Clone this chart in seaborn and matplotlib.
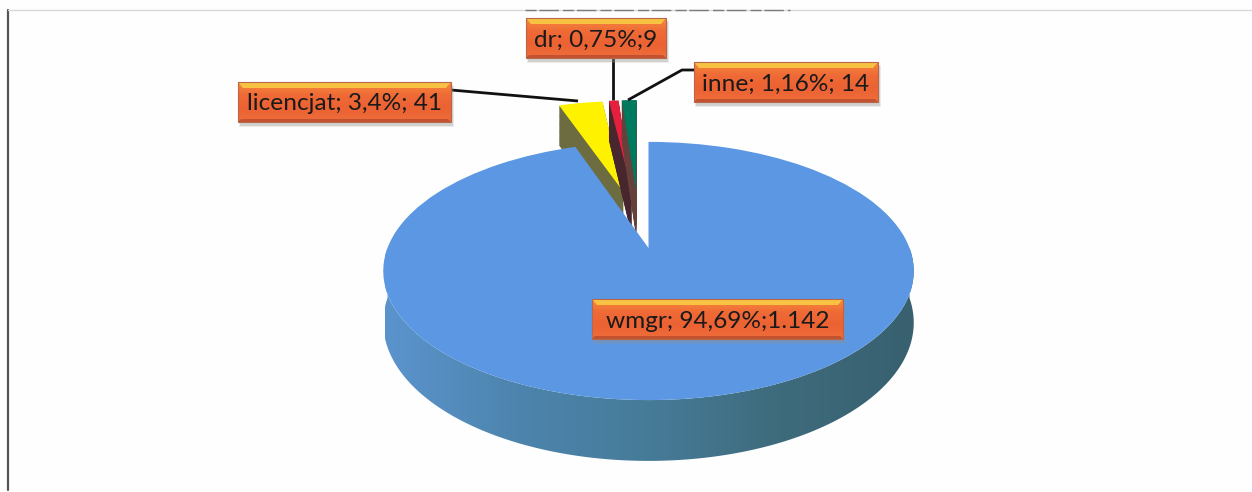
import numpy as np
import matplotlib
matplotlib.use("Agg")
import matplotlib.pyplot as plt
from matplotlib.patches import Polygon, Rectangle, PathPatch
from matplotlib.path import Path
from matplotlib.transforms import Transform
import seaborn as sns

# ---- data ----
categories = ["wmgr", "licencjat", "dr", "inne"]
percent = [94.69, 3.4, 0.75, 1.16]
label_texts = ["wmgr; 94,69%;1.142", "licencjat; 3,4%; 41", "dr; 0,75%;9", "inne; 1,16%; 14"]

# ---- styling ----
top_colors = ["#5b97e3", "#fff200", "#e61f3d", "#007a5e"]
side_colors = ["#457a96", "#6c6c40", "#47262e", "#66403a"]
explode = [0.0, 0.5, 0.5, 0.5]
nudge_px = [0.0, 2.0, -5.0, -8.0]
sns.set_theme(style="white")
plt.rcParams["font.family"] = ["Lato", "DejaVu Sans"]

W, H = 1252, 492
fig = plt.figure(figsize=(W / 100, H / 100), dpi=100, facecolor="#fefefe")
ax = fig.add_axes([0, 0, 1, 1])

CX, CY, RX, SY, K, DEPTH = 648.5, 248.0, 261.0, 125.0, 0.178, 50.0


class Perspective(Transform):
    """Tilted-disc projection from pie coordinates to picture pixels."""
    input_dims = output_dims = 2
    is_separable = False
    has_inverse = False

    def __init__(self, z=0.0, dx=0.0):
        super().__init__()
        self.z = z
        self.dx = dx

    def transform_non_affine(self, values):
        values = np.asarray(values, dtype=float)
        u, v = values[:, 0], values[:, 1]
        w = 1 + K * v
        return np.column_stack([CX + self.dx + RX * u / w, CY - (SY * v - DEPTH * self.z) / w])


def draw_pie(z, colors, base_z):
    wedges, _ = ax.pie(percent, explode=explode, colors=colors, startangle=90,
                       counterclock=False, radius=1.0)
    for i, w in enumerate(wedges):
        w.set_transform(Perspective(z, nudge_px[i]) + ax.transData)
        w.set_linewidth(0)
        # slices keep their own drawing order: small ones behind the big one
        w.set_zorder(base_z + ((i if i else 9) * 10))
    return wedges


# extruded sides of every slice, stacked from the bottom up
for z in np.linspace(1, 0.02, 45):
    wedges = draw_pie(z, side_colors, 2 + (1 - z))
    wedges[0].set_visible(False)

# top faces
tops = draw_pie(0, top_colors, 3)

# blue rim with its left-to-right shading
t = np.radians(np.linspace(180, 360, 181))
rim = np.column_stack([np.cos(t), np.sin(t)])
front = Perspective(0).transform(rim)
back = Perspective(1).transform(rim)[::-1]
band = Path(np.vstack([front, back, front[:1]]), closed=True)
shade = sns.blend_palette(["#5b94cd", "#4d84ad", "#467b98", "#3e6b7c", "#38606f"], as_cmap=True)
im = ax.imshow(np.linspace(0, 1, 256)[None, :], cmap=shade, aspect="auto",
               extent=(385, 915, 470, 240), zorder=50)
im.set_clip_path(PathPatch(band, transform=ax.transData))
tops[0].set_zorder(60)

# leader lines
leader_x = [[451, 578], [613, 613], [694, 682, 628]]
leader_y = [[90, 101], [58, 100], [70, 70, 100]]
for lx, ly in zip(leader_x, leader_y):
    ax.plot(lx, ly, color="#111111", lw=2, zorder=70, solid_capstyle="butt")

# orange callouts: (left, top, right, bottom) in pixels
boxes = [(592, 299, 843, 339), (238, 82, 451, 122), (526, 18, 666, 58), (694, 62, 878, 102)]
body = sns.blend_palette(["#f4883c", "#ef6a36", "#ec6233", "#ee6e3a"], as_cmap=True)
for (l, t_, r, b), s in zip(boxes, label_texts):
    ax.add_patch(Rectangle((l + 1, t_ + 3), r - l + 2, b - t_ + 2, fc="#9a9a9a", ec="none", alpha=0.18, zorder=80))
    ax.add_patch(Rectangle((l + 2, t_ + 4), r - l, b - t_, fc="#8a8a8a", ec="none", alpha=0.28, zorder=80))
    ax.imshow(np.linspace(0, 1, 32)[:, None], cmap=body, aspect="auto",
              extent=(l, r, b, t_), zorder=81)
    ax.add_patch(Polygon([(l, t_), (r, t_), (r - 5, t_ + 6), (l + 5, t_ + 6)], fc="#f8c243", ec="none", zorder=82))
    ax.add_patch(Polygon([(l, b), (r, b), (r - 3, b - 3), (l + 3, b - 3)], fc="#c2522f", ec="none", zorder=82))
    ax.add_patch(Rectangle((l, t_), r - l, b - t_, fc="none", ec="#b8674a", lw=0.8, zorder=83))
    ax.text((l + r) / 2, (t_ + b) / 2 + 2, s, ha="center", va="center", color="#1a1a1a",
            fontsize=17.6, zorder=84)

# scanned page frame
ax.plot([8, 8], [490, 10], color="#555555", lw=1.6, zorder=1)
ax.plot([8, 1252], [10, 10], color="#d8d8d8", lw=1.0, zorder=1)
ax.plot([525, 790], [9.5, 9.5], color="#7c7c7c", lw=1.0, ls=(0, (8, 2, 14, 3)), zorder=1)

ax.set_xlim(0, W)
ax.set_ylim(H, 0)
ax.set_aspect("auto")
ax.set_axis_off()
fig.savefig("out.png", dpi=100, facecolor=fig.get_facecolor())
